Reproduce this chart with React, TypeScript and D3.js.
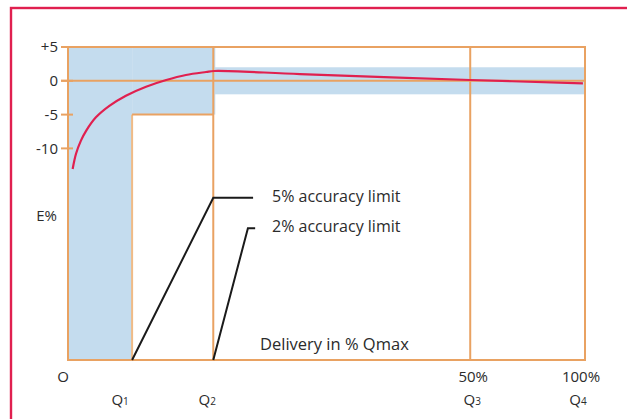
import { useMemo } from "react";
import * as d3 from "d3";

// delivery as % of Qmax (schematic positions) and the error curve E%
const curveDelivery = [0.9, 1.55, 2.5, 3.5, 5.4, 8.0, 11.2, 15.1, 19.0, 22.8, 26.7, 28.3, 44.9, 77.8, 99.6];
const curveError = [-13.05, -10.8, -8.85, -7.4, -5.4, -3.7, -2.2, -0.87, 0.12, 0.86, 1.3, 1.45, 1.0, 0.12, -0.37];

const flowNames = ["", "Q1", "Q2", "Q3", "Q4"];
const flowPos = [0, 12.4, 28.1, 77.8, 100];
const flowPct = ["O", "", "", "50%", "100%"];

const eTicks = [5, 0, -5, -10];
const eTickLabels = ["+5", "0", "-5", "-10"];
const E_MIN = -41.3;
const E_MAX = 5;

// accuracy envelopes
const limit5 = 5;
const limit2 = 2;

// leader lines: start point, corner point, end of the short horizontal
const leaderLabels = ["5% accuracy limit", "2% accuracy limit"];
const leaderFrom = [[12.4, E_MIN], [28.1, E_MIN]];
const leaderCorner = [[28.1, -17.3], [34.8, -21.8]];
const leaderEnd = [35.8, 36.2];

const ORANGE = "#e9a262";
const ORANGE_LIGHT = "#f0bb86";
const BLUE = "#c4dcee";
const RED = "#e0204f";
const TEXT = "#2b2b2b";
const FONT = "'Open Sans', sans-serif";

export default function App() {
  const W = 627;
  const H = 419;

  const x = useMemo(() => d3.scaleLinear().domain([0, 100]).range([68, 585]), []);
  const y = useMemo(() => d3.scaleLinear().domain([E_MIN, E_MAX]).range([360, 47]), []);

  const [, q1, q2, q3, q4] = flowPos;

  const curve = d3
    .line<number>()
    .x((d) => x(d))
    .y((_, i) => y(curveError[i]))
    .curve(d3.curveCatmullRom.alpha(0.5))(curveDelivery);

  // small hand nudges so tick labels sit like the original
  const topNudge = [-5, 0, 0, 3, -4];
  const botNudge = [0, -12, -6, 2, -7];

  return (
    <svg
      width={W}
      height={H}
      style={{ position: "absolute", left: 0, top: 0, background: "#fff" }}
      fontFamily={FONT}
    >
      {/* page frame */}
      <rect x={11} y={8} width={W + 40} height={H + 40} fill="none" stroke={RED} strokeWidth={2.4} />

      {/* 5% envelope */}
      <rect x={x(0)} y={y(limit5)} width={x(q1) - x(0)} height={y(E_MIN) - y(limit5)} fill={BLUE} />
      <rect x={x(q1)} y={y(limit5)} width={x(q2) - x(q1) + 2} height={y(-limit5) - y(limit5)} fill={BLUE} />
      {/* 2% envelope */}
      <rect x={x(q2)} y={y(limit2)} width={x(q4) - x(q2)} height={y(-limit2) - y(limit2)} fill={BLUE} />

      {/* y ticks */}
      {eTicks.map((t, i) => (
        <g key={t}>
          <line x1={x(0) - 7} x2={x(0) + 5} y1={y(t)} y2={y(t)} stroke={ORANGE} strokeWidth={2} />
          <text x={x(0) - 10} y={y(t)} dy="0.35em" textAnchor="end" fontSize={15} fill={TEXT}>
            {eTickLabels[i]}
          </text>
        </g>
      ))}

      {/* envelope edges */}
      <line x1={x(q1)} x2={x(q1)} y1={y(-limit5)} y2={y(E_MIN)} stroke={ORANGE_LIGHT} strokeWidth={2} />
      <line x1={x(q1)} x2={x(q2)} y1={y(-limit5)} y2={y(-limit5)} stroke={ORANGE} strokeWidth={2} />

      {/* zero line */}
      <line x1={x(0) - 7} x2={x(100)} y1={y(0)} y2={y(0)} stroke={ORANGE} strokeWidth={2} />

      {/* vertical grid at Q2, Q3 */}
      {[q2, q3].map((q) => (
        <line key={q} x1={x(q)} x2={x(q)} y1={y(E_MAX)} y2={y(E_MIN)} stroke={ORANGE} strokeWidth={2} />
      ))}

      {/* plot box */}
      <rect
        x={x(0)}
        y={y(E_MAX)}
        width={x(100) - x(0)}
        height={y(E_MIN) - y(E_MAX)}
        fill="none"
        stroke={ORANGE}
        strokeWidth={2}
      />

      {/* error curve */}
      <path d={curve ?? ""} fill="none" stroke={RED} strokeWidth={2.2} />

      {/* leader lines */}
      {leaderLabels.map((lab, i) => (
        <g key={lab}>
          <polyline
            points={[
              [x(leaderFrom[i][0]), y(leaderFrom[i][1])],
              [x(leaderCorner[i][0]), y(leaderCorner[i][1])],
              [x(leaderEnd[i]), y(leaderCorner[i][1])],
            ]
              .map((p) => p.join(","))
              .join(" ")}
            fill="none"
            stroke="#1a1a1a"
            strokeWidth={2}
          />
          <text x={272} y={y(leaderCorner[i][1]) + 4} fontSize={16} fill={TEXT}>
            {lab}
          </text>
        </g>
      ))}

      {/* axis titles */}
      <text x={57} y={221} textAnchor="end" fontSize={15} fill={TEXT}>
        E%
      </text>
      <text x={260} y={350} fontSize={16.5} fill={TEXT}>
        Delivery in % Qmax
      </text>

      {/* x labels */}
      {flowPos.map((p, i) => (
        <g key={i}>
          {flowPct[i] && (
            <text x={x(p) + topNudge[i]} y={382} textAnchor="middle" fontSize={15} fill={TEXT}>
              {flowPct[i]}
            </text>
          )}
          {flowNames[i] && (
            <text x={x(p) + botNudge[i]} y={405} textAnchor="middle" fontSize={15} fill={TEXT}>
              {flowNames[i].slice(0, 1)}
              <tspan fontSize={10}>{flowNames[i].slice(1)}</tspan>
            </text>
          )}
        </g>
      ))}
    </svg>
  );
}
